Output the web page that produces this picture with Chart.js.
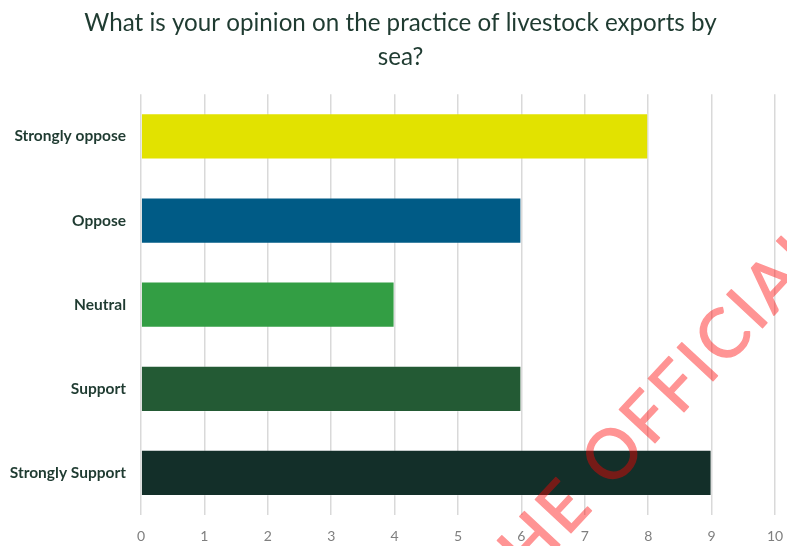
<!DOCTYPE html>
<html>
<head>
<meta charset="utf-8">
<script src="https://cdn.jsdelivr.net/npm/chart.js@4"></script>
<style>
  html, body { margin: 0; padding: 0; background: #ffffff; }
  #wrap { width: 787px; height: 546px; position: relative; }
</style>
</head>
<body>
<div id="wrap"><canvas id="chart"></canvas></div>
<script>
// survey answers, top to bottom
const categories = ["Strongly oppose", "Oppose", "Neutral", "Support", "Strongly Support"];
const responses = [8, 6, 4, 6, 9];
const barColors = ["#e2e200", "#005b86", "#339e44", "#235a34", "#132f29"];
const xTicks = [0, 1, 2, 3, 4, 5, 6, 7, 8, 9, 10];

const titleLines = ["What is your opinion on the practice of livestock exports by", "sea?"];
const stampText = "THE OFFICIAL";

// title sits a little right of the canvas centre
const titleShift = {
  id: "titleShift",
  afterLayout(chart) {
    const t = chart.titleBlock;
    if (!t) return;
    t.left += 13;
    t.right += 13;
  }
};

// red translucent stamp across the lower right
// (drawn opaque on a scratch canvas first so fill + stroke don't double up)
const stampPlugin = {
  id: "stamp",
  afterDraw(chart) {
    const ctx = chart.ctx;
    const w = chart.width, h = chart.height;
    const size = 68;
    const scratch = document.createElement("canvas");
    scratch.width = w;
    scratch.height = h;
    const s = scratch.getContext("2d");
    s.font = size + "px Lato, sans-serif";
    s.letterSpacing = "4px";
    s.translate(613, 452);
    s.rotate(-47 * Math.PI / 180);
    const offset = s.measureText("THE ").width + s.measureText("O").width / 2;
    s.fillStyle = "#ff0000";
    s.strokeStyle = "#ff0000";
    s.lineWidth = 1.4;
    s.lineJoin = "round";
    s.fillText(stampText, -offset, size * 0.36);
    s.strokeText(stampText, -offset, size * 0.36);
    ctx.save();
    ctx.globalAlpha = 0.42;
    ctx.drawImage(scratch, 0, 0, w, h);
    ctx.restore();
  }
};

new Chart(document.getElementById("chart"), {
  type: "bar",
  data: {
    labels: categories,
    datasets: [{
      data: responses,
      backgroundColor: barColors,
      borderColor: "rgba(255,255,255,0.25)",
      borderWidth: 1,
      barPercentage: 0.55,
      categoryPercentage: 1.0
    }]
  },
  options: {
    indexAxis: "y",
    responsive: true,
    maintainAspectRatio: false,
    animation: false,
    layout: { padding: { left: 0, right: 12, top: 0, bottom: 0 } },
    plugins: {
      legend: { display: false },
      tooltip: { enabled: false },
      title: {
        display: true,
        text: titleLines,
        color: "#1f3b31",
        font: { family: "Lato", size: 24.2, weight: "normal", lineHeight: 1.37 },
        padding: { top: 7, bottom: 21 }
      }
    },
    scales: {
      x: {
        min: 0,
        max: 10,
        afterBuildTicks: (scale) => { scale.ticks = xTicks.map(v => ({ value: v })); },
        afterFit: (scale) => {
          scale.height = 31;
          scale.paddingLeft = 0;
          scale.paddingRight = 0;
        },
        grid: { color: "#d9d9d9", lineWidth: 1.5, drawTicks: false },
        border: { display: false },
        ticks: { color: "#7f7f7f", font: { family: "Lato", size: 14 }, padding: 13 }
      },
      y: {
        afterFit: (scale) => { scale.width = 141; },
        grid: { display: false, drawTicks: false },
        border: { display: false },
        ticks: { color: "#1f3b31", font: { family: "Lato", size: 15.5, weight: "bold" }, padding: 15 }
      }
    }
  },
  plugins: [titleShift, stampPlugin]
});
</script>
</body>
</html>
